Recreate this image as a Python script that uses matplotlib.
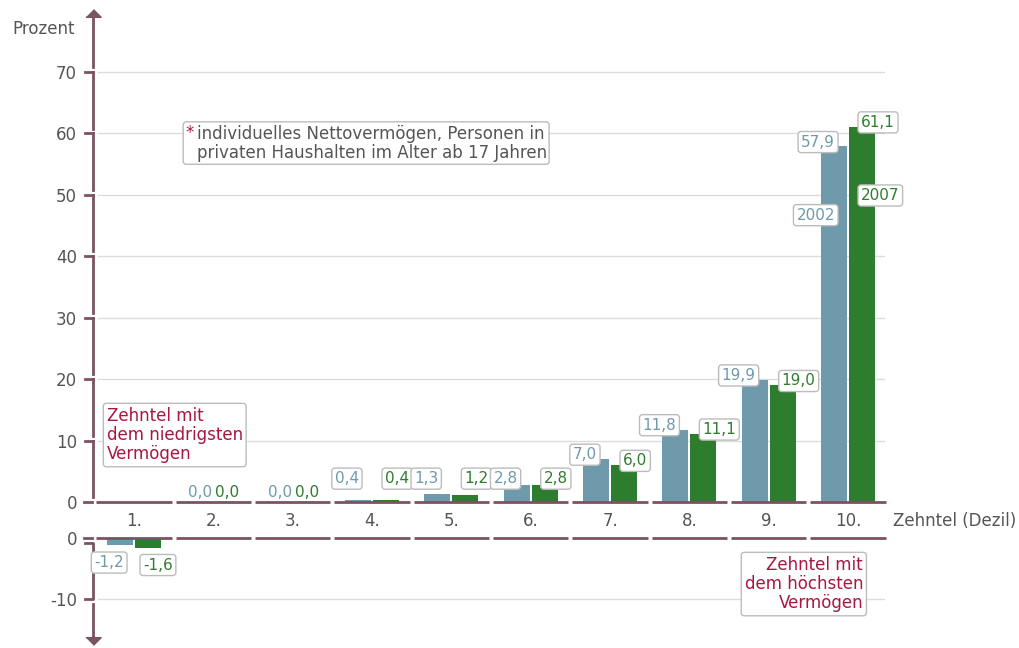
import matplotlib.pyplot as plt
import numpy as np
from matplotlib.patches import FancyBboxPatch
from matplotlib.transforms import Bbox, IdentityTransform, blended_transform_factory

# Anteil am Gesamtvermögen je Zehntel, in Prozent
deciles = ['1.', '2.', '3.', '4.', '5.', '6.', '7.', '8.', '9.', '10.']
share_2002 = [-1.2, 0.0, 0.0, 0.4, 1.3, 2.8, 7.0, 11.8, 19.9, 57.9]
share_2007 = [-1.6, 0.0, 0.0, 0.4, 1.2, 2.8, 6.0, 11.1, 19.0, 61.1]
years = ['2002', '2007']
upper_ticks = [0, 10, 20, 30, 40, 50, 60, 70]
lower_ticks = [0, -10]

BLUE = '#6e9aac'
GREEN = '#2e7d2e'
AXIS = '#7b5364'
GRID = '#dcdcdc'
TEXT = '#555555'
RED = '#a8173f'
EDGE = '#bcbcbc'

plt.rcParams['font.family'] = 'DejaVu Sans'
plt.rcParams['font.size'] = 12
plt.rcParams['axes.unicode_minus'] = False

W, H = 1019, 648
fig = plt.figure(figsize=(W / 100, H / 100), dpi=100)
ax_top = fig.add_axes([93 / W, 146 / H, 792 / W, 491.4 / H])
ax_bot = fig.add_axes([93 / W, 2.5 / H, 792 / W, 107.5 / H])

x = np.arange(len(deciles))
off, width = 0.177, 0.33
px = 0.72  # points per pixel

for ax in (ax_top, ax_bot):
    ax.bar(x - off, share_2002, width, color=BLUE, zorder=2)
    ax.bar(x + off, share_2007, width, color=GREEN, zorder=2)
    ax.hlines(np.zeros(len(x)), x - 0.475, x + 0.475, color=AXIS, lw=2, zorder=3, clip_on=False)
    ax.set_xlim(-0.517, 9.466)
    for s in ax.spines.values():
        s.set_visible(False)
    ax.tick_params(axis='y', length=0, pad=11.5, labelcolor=TEXT, labelsize=12)

ax_top.set_ylim(0, 80)
ax_bot.set_ylim(-17.5, 0)
ax_top.set_yticks(upper_ticks)
ax_bot.set_yticks(lower_ticks)
ax_top.set_xticks(x, deciles)
ax_top.tick_params(axis='x', length=0, pad=7, labelcolor=TEXT, labelsize=12)
ax_bot.set_xticks([])

for t in upper_ticks[1:]:
    ax_top.axhline(t, xmin=0.006, xmax=1, color=GRID, lw=1, zorder=1)
for t in lower_ticks[1:]:
    ax_bot.axhline(t, xmin=0.006, xmax=1, color=GRID, lw=1, zorder=1)

# segmentierte y-Achse mit Haken und Pfeilen
hook = 8 / 792
arrow = [(-1, -0.5), (1, -0.5), (0, 0.5)]
tr = blended_transform_factory(ax_top.transAxes, ax_top.transData)
for t in upper_ticks[1:]:
    ax_top.plot([0, 0], [t, t - 9.2], color=AXIS, lw=2, transform=tr, clip_on=False, zorder=4)
    ax_top.plot([-hook, 0], [t, t], color=AXIS, lw=2, transform=tr, clip_on=False, zorder=4)
ax_top.plot([0, 0], [70.8, 79.3], color=AXIS, lw=2, transform=tr, clip_on=False, zorder=4)
ax_top.plot([0], [79.6], marker=arrow, ms=11, color=AXIS, transform=tr, clip_on=False, zorder=4)
ax_top.plot([-0.0114, -0.0013], [0, 0], color=AXIS, lw=2, transform=tr, clip_on=False, zorder=4)

tb = blended_transform_factory(ax_bot.transAxes, ax_bot.transData)
ax_bot.plot([-0.0114, -0.0013], [0, 0], color=AXIS, lw=2, transform=tb, clip_on=False, zorder=4)
ax_bot.plot([-hook, 0, 0, -hook], [-0.8, -0.8, -10, -10], color=AXIS, lw=2, transform=tb,
            clip_on=False, zorder=4)
ax_bot.plot([0, 0], [-10.8, -16.6], color=AXIS, lw=2, transform=tb, clip_on=False, zorder=4)
ax_bot.plot([0], [-16.8], marker=[(-1, 0.5), (1, 0.5), (0, -0.5)], ms=11, color=AXIS,
            transform=tb, clip_on=False, zorder=4)


def fmt(v):
    return f'{v:.1f}'.replace('.', ',')


def tag(ax, xpos, y, text, color, ha, dx, boxed=True):
    bbox = None
    if boxed:
        bbox = dict(boxstyle='round,pad=0.2,rounding_size=0.2', fc='white', ec=EDGE, lw=1)
    ax.annotate(text, (xpos, y), xytext=(dx * px, 0), textcoords='offset points',
                ha=ha, va='center', color=color, fontsize=11, bbox=bbox,
                zorder=6, annotation_clip=False)


for i in range(len(deciles)):
    for vals, sign, color in ((share_2002, -1, BLUE), (share_2007, 1, GREEN)):
        v = vals[i]
        ha = 'right' if sign < 0 else 'left'
        if v > 0:
            tag(ax_top, x[i] + sign * off, max(v + 0.7, 3.8), fmt(v), color, ha, -sign * 1)
        elif v == 0:
            tag(ax_top, x[i], 1.6, fmt(v), color, ha, -1 if sign < 0 else 2, boxed=False)
        else:
            tag(ax_bot, x[i] + sign * off, v - 2.8, fmt(v), color, ha, 4 if sign < 0 else -5)

# Jahresbeschriftung am obersten Zehntel
tag(ax_top, x[-1] - off, 46.7, years[0], BLUE, 'right', 1)
tag(ax_top, x[-1] + off, 49.9, years[1], GREEN, 'left', -1)

note_box = dict(boxstyle='round,pad=0.2,rounding_size=0.2', fc='white', ec=EDGE, lw=1)
ax_top.text(-0.345, 10.9, 'Zehntel mit\ndem niedrigsten\nVermögen', color=RED, ha='left',
            va='center', linespacing=1.1, bbox=note_box, zorder=6)
ax_bot.text(9.19, -7.5, 'Zehntel mit\ndem höchsten\nVermögen', color=RED, ha='right',
            multialignment='right', va='center', linespacing=1.1, bbox=note_box, zorder=6)

foot = ax_top.text(0.794, 58.35, 'individuelles Nettovermögen, Personen in\n'
                   'privaten Haushalten im Alter ab 17 Jahren', color=TEXT, ha='left',
                   va='center', linespacing=1.1, zorder=7)
star = ax_top.text(0.645, 60.1, '*', color=RED, ha='left', va='center', zorder=7)

ax_top.annotate('Zehntel (Dezil)', (1, 0), xycoords='axes fraction', xytext=(8 * px, -19 * px),
                textcoords='offset points', ha='left', va='center', color=TEXT,
                annotation_clip=False)
fig.text(75 / W, 1 - 29 / H, 'Prozent', ha='right', va='center', color=TEXT)

fig.canvas.draw()
r = fig.canvas.get_renderer()
bb = Bbox.union([foot.get_window_extent(r), star.get_window_extent(r)])
ax_top.add_patch(FancyBboxPatch((bb.x0, bb.y0), bb.width, bb.height,
                                boxstyle='round,pad=2,rounding_size=3', fc='white', ec=EDGE,
                                lw=1, transform=IdentityTransform(), zorder=5))
ax_top.set_xlim(-0.517, 9.466)
ax_top.set_ylim(0, 80)

fig.savefig('out.png', dpi=100)
